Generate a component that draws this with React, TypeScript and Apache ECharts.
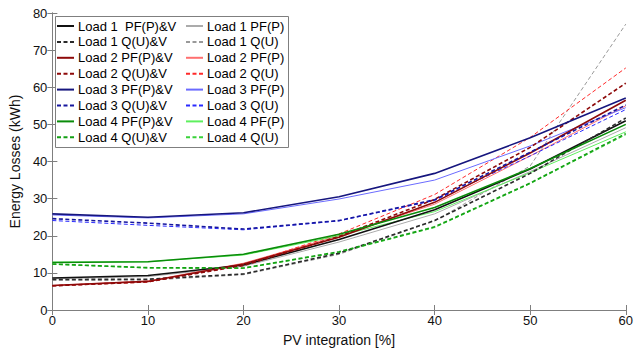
import React, { useEffect, useRef } from "react";
import * as echarts from "echarts";

const pvIntegration = [0, 10, 20, 30, 40, 50, 60];

// Load 1
const load1PFV = [8.6, 9.3, 12.1, 19.0, 27.0, 38.0, 51.0];
const load1QUV = [8.2, 8.3, 9.7, 15.3, 24.1, 36.8, 51.7];
const load1PF = [8.4, 9.0, 11.8, 18.3, 25.9, 37.3, 49.1];
const load1QU = [8.0, 8.0, 9.5, 15.0, 24.0, 38.8, 77.0];
// Load 2
const load2PFV = [6.6, 7.7, 12.4, 19.6, 29.0, 42.3, 56.5];
const load2QUV = [6.5, 7.6, 12.0, 19.8, 29.8, 43.8, 61.1];
const load2PF = [6.6, 7.8, 12.6, 20.0, 28.5, 41.5, 55.0];
const load2QU = [6.5, 7.5, 12.2, 20.5, 31.1, 46.5, 65.2];
// Load 3
const load3PFV = [25.9, 25.0, 26.2, 30.5, 36.8, 46.4, 57.1];
const load3QUV = [24.6, 23.4, 21.8, 24.1, 29.7, 42.5, 55.2];
const load3PF = [25.6, 24.8, 25.9, 29.9, 35.0, 44.2, 54.5];
const load3QU = [24.1, 22.8, 21.6, 24.0, 29.5, 41.5, 54.0];
// Load 4
const load4PFV = [12.8, 13.0, 15.0, 20.4, 27.6, 38.1, 50.0];
const load4QUV = [12.4, 11.4, 11.3, 15.7, 22.4, 34.2, 47.5];
const load4PF = [12.9, 13.0, 14.8, 20.0, 26.5, 37.0, 48.0];
const load4QU = [12.3, 11.3, 11.2, 15.5, 22.2, 34.0, 47.2];

const xTicks = [0, 10, 20, 30, 40, 50, 60];
const yTicks = [0, 10, 20, 30, 40, 50, 60, 70, 80];

type S = { name: string; data: number[]; color: string; dashed: boolean; width: number };

const leftNames = [
  "Load 1  PF(P)&V",
  "Load 1 Q(U)&V",
  "Load 2 PF(P)&V",
  "Load 2 Q(U)&V",
  "Load 3 PF(P)&V",
  "Load 3 Q(U)&V",
  "Load 4 PF(P)&V",
  "Load 4 Q(U)&V",
];
const rightNames = [
  "Load 1 PF(P)",
  "Load 1 Q(U)",
  "Load 2 PF(P)",
  "Load 2 Q(U)",
  "Load 3 PF(P)",
  "Load 3 Q(U)",
  "Load 4 PF(P)",
  "Load 4 Q(U)",
];

const seriesDefs: S[] = [
  { name: rightNames[0], data: load1PF, color: "#ababab", dashed: false, width: 1 },
  { name: rightNames[1], data: load1QU, color: "#999999", dashed: true, width: 1 },
  { name: rightNames[2], data: load2PF, color: "#ff7070", dashed: false, width: 1 },
  { name: rightNames[3], data: load2QU, color: "#ff2a2a", dashed: true, width: 1 },
  { name: rightNames[4], data: load3PF, color: "#6b6bff", dashed: false, width: 1 },
  { name: rightNames[5], data: load3QU, color: "#2a2aff", dashed: true, width: 1 },
  { name: rightNames[6], data: load4PF, color: "#5ef05e", dashed: false, width: 1 },
  { name: rightNames[7], data: load4QU, color: "#3ad23a", dashed: true, width: 1 },
  { name: leftNames[0], data: load1PFV, color: "#111111", dashed: false, width: 1.6 },
  { name: leftNames[1], data: load1QUV, color: "#2a2a2a", dashed: true, width: 1.6 },
  { name: leftNames[2], data: load2PFV, color: "#8e0a0a", dashed: false, width: 1.6 },
  { name: leftNames[3], data: load2QUV, color: "#8e0a0a", dashed: true, width: 1.6 },
  { name: leftNames[4], data: load3PFV, color: "#16167e", dashed: false, width: 1.6 },
  { name: leftNames[5], data: load3QUV, color: "#16169e", dashed: true, width: 1.6 },
  { name: leftNames[6], data: load4PFV, color: "#0a8c0a", dashed: false, width: 1.6 },
  { name: leftNames[7], data: load4QUV, color: "#14a014", dashed: true, width: 1.6 },
];

const FONT = "'Liberation Sans', Arial, sans-serif";
const AXIS_COLOR = "#7f7f7f";

export default function App() {
  const ref = useRef<HTMLDivElement>(null);
  useEffect(() => {
    document.body.style.margin = "0";
    if (!ref.current) return;
    const chart = echarts.init(ref.current, undefined, { renderer: "svg" });
    const legendCommon = {
      orient: "vertical" as const,
      top: 19,
      itemWidth: 17,
      itemHeight: 14,
      itemGap: 1.9,
      padding: 0,
      z: 20,
      itemStyle: { opacity: 0 },
      textStyle: { fontSize: 13, fontFamily: FONT, color: "#000", lineHeight: 14, padding: [0, 0, 0, -1] },
      selectedMode: false,
    };
    chart.setOption({
      animation: false,
      backgroundColor: "#fff",
      textStyle: { fontFamily: FONT },
      grid: { left: 52, right: 8, top: 13, bottom: 34 },
      graphic: [
        {
          type: "rect",
          z: 15,
          shape: { x: 55.5, y: 16.5, width: 233, height: 131 },
          style: { fill: "#fff", stroke: AXIS_COLOR, lineWidth: 1 },
        },
      ],
      legend: [
        { ...legendCommon, left: 56, data: leftNames },
        { ...legendCommon, left: 185, data: rightNames },
      ],
      xAxis: [
        {
          type: "value",
          min: xTicks[0],
          max: xTicks[xTicks.length - 1],
          interval: 10,
          name: "PV integration [%]",
          nameLocation: "middle",
          nameGap: 23,
          nameTextStyle: { fontSize: 14, fontFamily: FONT, color: "#111" },
          axisLine: { lineStyle: { color: AXIS_COLOR } },
          axisTick: { inside: true, length: 5, lineStyle: { color: AXIS_COLOR } },
          axisLabel: { fontSize: 13, fontFamily: FONT, color: "#111", margin: 4 },
          splitLine: { show: false },
        },
        {
          type: "value",
          position: "top",
          min: xTicks[0],
          max: xTicks[xTicks.length - 1],
          interval: 10,
          axisLine: { show: true, lineStyle: { color: AXIS_COLOR } },
          axisTick: { show: true, inside: true, length: 5, lineStyle: { color: AXIS_COLOR } },
          axisLabel: { show: false },
          splitLine: { show: false },
        },
      ],
      yAxis: [
        {
          type: "value",
          min: yTicks[0],
          max: yTicks[yTicks.length - 1],
          interval: 10,
          name: "Energy Losses (kWh)",
          nameLocation: "middle",
          nameGap: 24,
          nameTextStyle: { fontSize: 14, fontFamily: FONT, color: "#111" },
          axisLine: { show: true, lineStyle: { color: AXIS_COLOR } },
          axisTick: { show: true, inside: true, length: 5, lineStyle: { color: AXIS_COLOR } },
          axisLabel: { fontSize: 13, fontFamily: FONT, color: "#111", margin: 5 },
          splitLine: { show: false },
        },
        {
          type: "value",
          position: "right",
          min: yTicks[0],
          max: yTicks[yTicks.length - 1],
          interval: 10,
          axisLine: { show: true, lineStyle: { color: AXIS_COLOR } },
          axisTick: { show: true, inside: true, length: 5, lineStyle: { color: AXIS_COLOR } },
          axisLabel: { show: false },
          splitLine: { show: false },
        },
      ],
      series: seriesDefs.map((s) => ({
        name: s.name,
        type: "line",
        symbol: "none",
        showSymbol: false,
        data: pvIntegration.map((x, i) => [x, s.data[i]]),
        itemStyle: { color: s.color },
        lineStyle: { color: s.color, width: s.width, type: s.dashed ? [4, 2.5] : "solid" },
        z: 2,
      })),
    });
    return () => chart.dispose();
  }, []);
  return <div ref={ref} style={{ width: 636, height: 352 }} />;
}
